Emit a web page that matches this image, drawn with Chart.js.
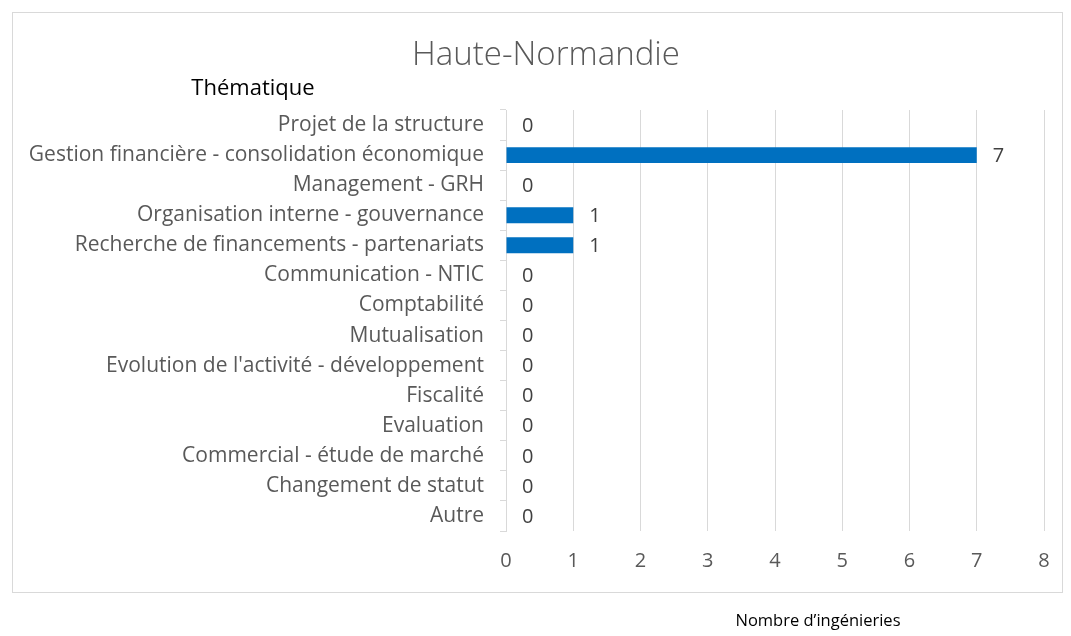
<!DOCTYPE html>
<html><head><meta charset="utf-8">
<script src="https://cdn.jsdelivr.net/npm/chart.js@4.4.1/dist/chart.umd.min.js"></script>
<style>html,body{margin:0;padding:0;background:#fff;}canvas{display:block;}</style>
</head><body>
<canvas id="c" width="1071" height="636"></canvas>
<script>
const categories = [
  "Projet de la structure",
  "Gestion financière - consolidation économique",
  "Management - GRH",
  "Organisation interne - gouvernance",
  "Recherche de financements - partenariats",
  "Communication - NTIC",
  "Comptabilité",
  "Mutualisation",
  "Evolution de l'activité - développement",
  "Fiscalité",
  "Evaluation",
  "Commercial - étude de marché",
  "Changement de statut",
  "Autre"
];
const values = [0, 7, 0, 1, 1, 0, 0, 0, 0, 0, 0, 0, 0, 0];
const xTicks = [0, 1, 2, 3, 4, 5, 6, 7, 8];
const chartTitle = "Haute-Normandie";
const yTitle = "Thématique";
const xTitle = "Nombre d’ingénieries";

const FONT = "'Open Sans', sans-serif";

const decor = {
  id: 'decor',
  beforeDraw(chart) {
    const ctx = chart.ctx;
    ctx.save();
    ctx.fillStyle = '#fff';
    ctx.fillRect(0, 0, chart.width, chart.height);
    ctx.strokeStyle = '#d9d9d9';
    ctx.lineWidth = 1;
    ctx.strokeRect(12.5, 12.5, 1050, 580);
    ctx.restore();
  },
  afterDraw(chart) {
    const ctx = chart.ctx;
    ctx.save();
    ctx.textBaseline = 'middle';
    ctx.textAlign = 'center';
    ctx.fillStyle = '#595959';
    ctx.font = "300 33px " + FONT;
    ctx.fillText(chartTitle, 546, 56);
    ctx.fillStyle = '#000';
    ctx.font = "22px " + FONT;
    ctx.fillText(yTitle, 253, 89);
    ctx.font = "16.5px " + FONT;
    ctx.fillText(xTitle, 818, 621);
    ctx.restore();
  },
  afterDatasetsDraw(chart) {
    const ctx = chart.ctx;
    const meta = chart.getDatasetMeta(0);
    ctx.save();
    ctx.fillStyle = '#404040';
    ctx.font = "20px " + FONT;
    ctx.textAlign = 'left';
    ctx.textBaseline = 'middle';
    meta.data.forEach((el, i) => {
      ctx.fillText(String(values[i]), el.x + 16, el.y + 1);
    });
    ctx.restore();
  }
};

new Chart(document.getElementById('c'), {
  type: 'bar',
  data: {
    labels: categories,
    datasets: [{
      data: values,
      backgroundColor: '#0070C0',
      borderWidth: 0,
      categoryPercentage: 1.0,
      barPercentage: 0.53
    }]
  },
  options: {
    indexAxis: 'y',
    responsive: false,
    animation: false,
    devicePixelRatio: 1,
    layout: { padding: { left: 0, right: 27, top: 110, bottom: 0 } },
    plugins: { legend: { display: false }, tooltip: { enabled: false }, title: { display: false } },
    scales: {
      x: {
        min: 0, max: 8,
        afterBuildTicks(scale) { scale.ticks = xTicks.map(v => ({ value: v })); },
        afterFit(scale) { scale.height = 105; },
        grid: { color: '#d9d9d9', drawTicks: false, lineWidth: 1 },
        border: { display: false },
        ticks: { color: '#595959', font: { family: FONT, size: 20 }, padding: 18 }
      },
      y: {
        afterFit(scale) { scale.width = 506; },
        grid: { drawOnChartArea: false, drawTicks: true, tickLength: 6, offset: true, color: '#d9d9d9' },
        border: { display: true, color: '#d9d9d9' },
        ticks: { color: '#595959', font: { family: FONT, size: 21 }, padding: 16, autoSkip: false }
      }
    }
  },
  plugins: [decor]
});
</script>
</body></html>
